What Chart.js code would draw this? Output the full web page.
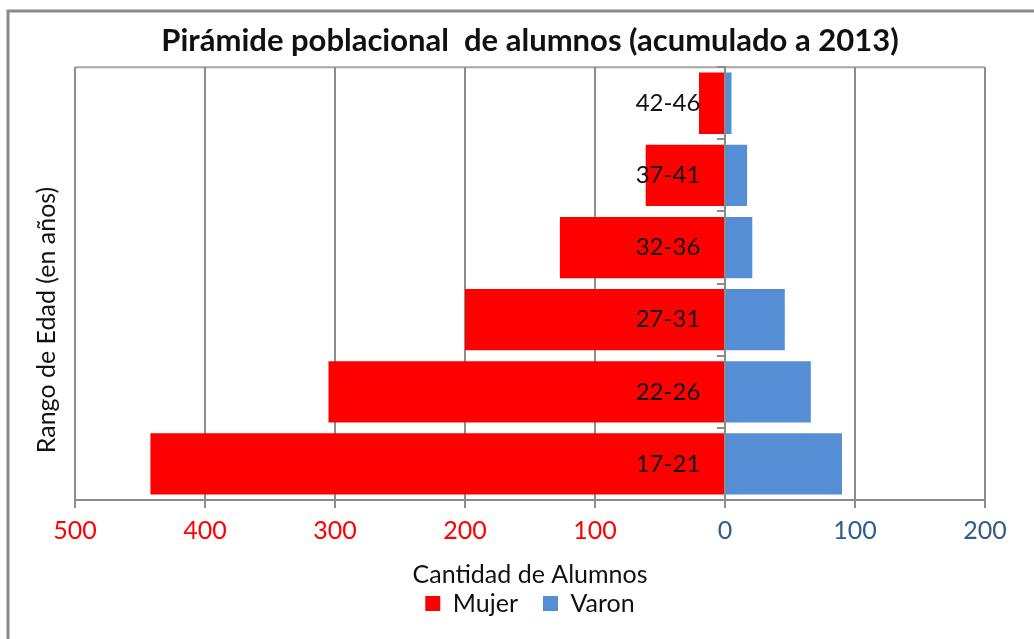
<!DOCTYPE html>
<html>
<head>
<meta charset="utf-8">
<script src="https://cdn.jsdelivr.net/npm/chart.js@4"></script>
<style>
  html, body { margin: 0; padding: 0; background: #fff; }
  #wrap { width: 1034px; height: 639px; }
</style>
</head>
<body>
<div id="wrap"><canvas id="pyramid"></canvas></div>
<script>
const ageGroups = ["42-46", "37-41", "32-36", "27-31", "22-26", "17-21"];
const mujer = [20, 61, 127, 200, 305, 442];
const varon = [5, 17, 21, 46, 66, 90];

const gridGray = "#8c8c8c";
const fontName = "Lato, 'Open Sans', sans-serif";

// marco del grafico y titulo vertical
const framePlugin = {
    id: "frame",
    beforeDraw(chart) {
        const { ctx, chartArea } = chart;
        ctx.save();
        ctx.fillStyle = "#fff";
        ctx.fillRect(0, 0, chart.width, chart.height);
        ctx.strokeStyle = "#8a8a8a";
        ctx.lineWidth = 3;
        ctx.strokeRect(8, 11, chart.width + 10, chart.height + 10);
        ctx.strokeStyle = "#a6a6a6";
        ctx.lineWidth = 2;
        ctx.beginPath();
        ctx.moveTo(chartArea.left, chartArea.top);
        ctx.lineTo(chartArea.right, chartArea.top);
        ctx.stroke();

        ctx.translate(47, 320);
        ctx.rotate(-Math.PI / 2);
        ctx.fillStyle = "#111";
        ctx.font = `25px ${fontName}`;
        ctx.textAlign = "center";
        ctx.textBaseline = "middle";
        ctx.fillText("Rango de Edad (en años)", 0, 0);
        ctx.restore();
    }
};

new Chart(document.getElementById("pyramid"), {
    type: "bar",
    data: {
        labels: ageGroups,
        datasets: [
            {
                label: "Mujer",
                data: mujer.map(v => -v),
                backgroundColor: "#ff0000",
                borderWidth: 0,
                barPercentage: 0.85,
                categoryPercentage: 1
            },
            {
                label: "Varon",
                data: varon,
                backgroundColor: "#558ed5",
                borderWidth: 0,
                barPercentage: 0.85,
                categoryPercentage: 1
            }
        ]
    },
    options: {
        indexAxis: "y",
        responsive: true,
        maintainAspectRatio: false,
        animation: false,
        layout: { padding: { left: 75, right: 49, top: 14, bottom: 13 } },
        scales: {
            x: {
                stacked: true,
                min: -500,
                max: 200,
                ticks: {
                    stepSize: 100,
                    padding: 8,
                    font: { family: fontName, size: 25 },
                    color: (c) => c.tick.value < 0 ? "#ff0000" : "#2f5b8f",
                    callback: (v) => Math.abs(v)
                },
                grid: { color: gridGray, lineWidth: 2, tickLength: 8, tickColor: gridGray },
                border: { color: gridGray, width: 2 },
                title: {
                    display: true,
                    text: "Cantidad de Alumnos",
                    color: "#111",
                    font: { family: fontName, size: 25 },
                    padding: { top: 6, bottom: -24 }
                }
            },
            y: {
                stacked: true,
                position: { x: 0 },
                ticks: { display: false },
                grid: { drawOnChartArea: false, offset: true, tickLength: 7, color: gridGray, lineWidth: 2 },
                border: { color: gridGray, width: 2 }
            },
            yLabels: {
                type: "category",
                position: { x: -19 },
                grid: { display: false, drawTicks: false },
                border: { display: false },
                ticks: { z: 1, autoSkip: false, color: "#111", font: { family: fontName, size: 24 } }
            }
        },
        plugins: {
            title: {
                display: true,
                text: "Pirámide poblacional  de alumnos (acumulado a 2013)",
                color: "#111",
                font: { family: fontName, size: 31, weight: "bold" },
                padding: { top: 8, bottom: 8 }
            },
            legend: {
                position: "bottom",
                labels: {
                    color: "#111",
                    boxWidth: 15,
                    boxHeight: 15,
                    padding: 25,
                    font: { family: fontName, size: 25 }
                }
            },
            tooltip: { enabled: false }
        }
    },
    plugins: [framePlugin]
});
</script>
</body>
</html>
